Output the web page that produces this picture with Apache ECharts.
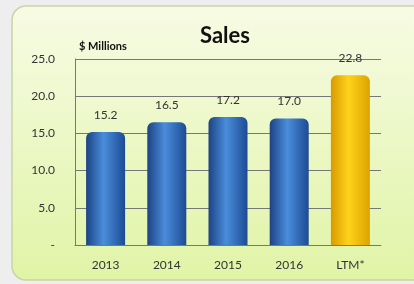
<!DOCTYPE html>
<html>
<head>
<meta charset="utf-8">
<script src="https://cdn.jsdelivr.net/npm/echarts@6/dist/echarts.min.js"></script>
<style>
  html, body { margin: 0; padding: 0; background: #eeeeee; }
  #chart { width: 414px; height: 284px; }
</style>
</head>
<body>
<div id="chart"></div>
<script>
// chart data
const categories = ['2013', '2014', '2015', '2016', 'LTM*']
const sales = [15.2, 16.5, 17.2, 17.0, 22.8]
const highlight = [false, false, false, false, true]

const blueBar = new echarts.graphic.LinearGradient(0, 0, 1, 0, [
  { offset: 0, color: '#1c4383' },
  { offset: 0.45, color: '#4a8ddb' },
  { offset: 1, color: '#1d4b94' }
])
const goldBar = new echarts.graphic.LinearGradient(0, 0, 1, 0, [
  { offset: 0, color: '#d99a00' },
  { offset: 0.45, color: '#ffd21a' },
  { offset: 1, color: '#dca300' }
])

const chart = echarts.init(document.getElementById('chart'))
chart.setOption({
  animation: false,
  textStyle: { fontFamily: 'Lato' },
  graphic: [{
    type: 'rect',
    z: -10,
    shape: { x: 12, y: 6, width: 430, height: 274, r: 14 },
    style: {
      fill: new echarts.graphic.LinearGradient(0, 0, 0, 1, [
        { offset: 0, color: '#f7fbe4' },
        { offset: 1, color: '#e0f4a6' }
      ]),
      stroke: '#c9d4a8',
      lineWidth: 1.5
    }
  }],
  title: {
    text: 'Sales',
    left: 220,
    top: 20,
    textAlign: 'center',
    textStyle: { fontSize: 22, fontWeight: 'bold', color: '#111', fontFamily: 'Lato' }
  },
  grid: { left: 75, right: 33, top: 59, bottom: 39 },
  xAxis: {
    type: 'category',
    data: categories,
    axisLine: { lineStyle: { color: '#777', width: 1 } },
    axisTick: { show: false },
    axisLabel: { color: '#333', fontSize: 12, margin: 14 }
  },
  yAxis: {
    type: 'value',
    name: '$ Millions',
    nameLocation: 'end',
    nameGap: 7,
    nameTextStyle: { align: 'left', color: '#111', fontWeight: 'bold', fontSize: 11, padding: [0, 0, 0, 4] },
    min: 0,
    max: 25,
    interval: 5,
    axisLine: { show: true, lineStyle: { color: '#777' } },
    axisTick: { show: false },
    splitLine: { lineStyle: { color: '#777', width: 1 } },
    axisLabel: {
      color: '#333',
      fontSize: 12,
      margin: 20,
      formatter: v => v === 0 ? '-' : v.toFixed(1)
    }
  },
  series: [{
    type: 'bar',
    barWidth: 39,
    data: sales.map((v, i) => ({
      value: v,
      itemStyle: { color: highlight[i] ? goldBar : blueBar }
    })),
    itemStyle: { borderRadius: [6, 6, 0, 0] },
    label: {
      show: true,
      position: 'top',
      distance: 11,
      color: '#333',
      fontSize: 12,
      formatter: p => p.value.toFixed(1)
    }
  }]
})
</script>
</body>
</html>
